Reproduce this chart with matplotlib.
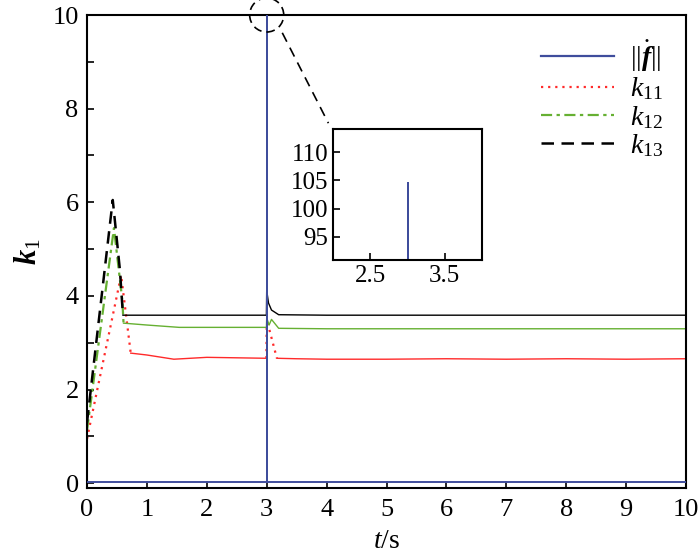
import matplotlib
matplotlib.use("Agg")
import matplotlib.pyplot as plt
from matplotlib.patches import Ellipse
from matplotlib.lines import Line2D
from matplotlib.ticker import MultipleLocator, FixedLocator

plt.rcParams['font.family'] = ['Liberation Serif', 'DejaVu Serif']
plt.rcParams['mathtext.fontset'] = 'custom'
plt.rcParams['mathtext.rm'] = 'Liberation Serif'
plt.rcParams['mathtext.it'] = 'Liberation Serif:italic'
plt.rcParams['mathtext.bf'] = 'Liberation Serif:bold:italic'

# ---- data ----
t_f = [0, 3.0, 3.0, 3.0, 10]
f_norm = [0.02, 0.02, 104.6, 0.02, 0.02]

t_k11 = [0, 0.57, 0.73, 1.0, 1.45, 2.0, 2.5, 2.995, 3.0, 3.02, 3.17, 3.5, 4, 5, 6, 7, 8, 9, 10]
k11 = [0.95, 4.44, 2.78, 2.74, 2.65, 2.69, 2.68, 2.67, 3.42, 3.40, 2.67, 2.66, 2.65, 2.65, 2.66, 2.65, 2.66, 2.65, 2.66]

t_k12 = [0, 0.45, 0.59, 0.61, 1.0, 1.54, 2.0, 2.995, 3.0, 3.04, 3.08, 3.2, 4, 5, 6, 7, 8, 9, 10]
k12 = [1.13, 5.45, 3.90, 3.42, 3.38, 3.33, 3.33, 3.33, 3.53, 3.38, 3.50, 3.31, 3.30, 3.30, 3.30, 3.30, 3.30, 3.30, 3.30]

t_k13 = [0, 0.43, 0.55, 0.6, 1.0, 2.0, 2.995, 3.0, 3.03, 3.08, 3.2, 4, 5, 6, 7, 8, 9, 10]
k13 = [1.30, 6.05, 4.55, 3.59, 3.59, 3.59, 3.59, 4.12, 3.85, 3.70, 3.60, 3.59, 3.59, 3.59, 3.59, 3.59, 3.59, 3.59]

# index ranges (inclusive) drawn in the series style (transients) and solid (steady)
k11_styled = [(0, 2), (7, 10)]
k11_steady = [(2, 7), (10, 18)]
k12_styled = [(0, 3)]
k12_steady = [(3, 18)]
k13_styled = [(0, 3)]
k13_steady = [(3, 17)]

xticks = list(range(0, 11))
yticks_major = [0, 2, 4, 6, 8, 10]
inset_xticks = [2.5, 3.5]
inset_yticks = [95, 100, 105, 110]

c_blue = '#3f4d9c'
c_red = '#ff2a2a'
c_green = '#66b032'
c_black = '#000000'

st_red = dict(color=c_red, lw=1.6, ls=(0, (1, 2.2)))
st_green = dict(color=c_green, lw=1.6, ls=(0, (5, 2, 1.5, 2)))
st_black = dict(color=c_black, lw=1.8, ls=(0, (5, 3)))

fig = plt.figure(figsize=(7.0, 5.55), dpi=100)
ax = fig.add_axes([87/700, 1-488/555, (686-87)/700, (488-15)/555])

ax.plot(t_f, f_norm, color=c_blue, lw=1.4, zorder=3)
for tt, vv, styled, steady, st in [(t_k11, k11, k11_styled, k11_steady, st_red),
                                   (t_k12, k12, k12_styled, k12_steady, st_green),
                                   (t_k13, k13, k13_styled, k13_steady, st_black)]:
    for a, b in styled:
        ax.plot(tt[a:b+1], vv[a:b+1], **st)
    for a, b in steady:
        ax.plot(tt[a:b+1], vv[a:b+1], color=st['color'], lw=1.0, ls='-')

handles = [Line2D([], [], color=c_blue, lw=1.6),
           Line2D([], [], **st_red),
           Line2D([], [], **st_green),
           Line2D([], [], **st_black)]
labels = [r'$||\dot{\mathbf{f}}||$', r'$k_{11}$', r'$k_{12}$', r'$k_{13}$']

ax.set_xlim(0, 10)
ax.set_ylim(-0.1, 10)
ax.set_xticks(xticks)
ax.yaxis.set_major_locator(FixedLocator(yticks_major))
ax.yaxis.set_minor_locator(MultipleLocator(1))
ax.tick_params(axis='both', which='both', direction='in', labelsize=19, length=5, width=1.2)
ax.tick_params(axis='x', pad=8)
ax.tick_params(axis='y', pad=6)
for s in ax.spines.values():
    s.set_linewidth(1.5)

ax.set_xlabel(r'$t$/s', fontsize=20, labelpad=6)
ax.set_ylabel(r'$\mathbf{k}_{\rm 1}$', fontsize=22, labelpad=6)

ax.legend(handles, labels, loc='upper right', frameon=False, fontsize=20, handlelength=2.6,
          labelspacing=0.05, borderaxespad=0.2, bbox_to_anchor=(0.99, 0.985),
          handletextpad=0.6)

# zoom annotation
circ = Ellipse((3.0, 10.0), width=34/59.8, height=34/46.8, fill=False, ls=(0, (5, 3)),
               lw=1.2, color='black', clip_on=False, zorder=5)
ax.add_patch(circ)
ax.plot([3.26, 4.03], [9.62, 7.69], color='black', lw=1.2, ls=(0, (6, 4)), clip_on=False)

# inset
ins = fig.add_axes([333/700, 1-260/555, 149/700, 131/555])
ins.plot(t_f, f_norm, color=c_blue, lw=1.4)
ins.set_xlim(2, 4)
ins.set_ylim(90.9, 114.1)
ins.set_xticks(inset_xticks)
ins.set_xticklabels(['2.5', '3.5'])
ins.set_yticks(inset_yticks)
ins.tick_params(direction='in', labelsize=18, length=5, width=1.2)
for s in ins.spines.values():
    s.set_linewidth(1.5)

fig.savefig('out.png', dpi=100)
